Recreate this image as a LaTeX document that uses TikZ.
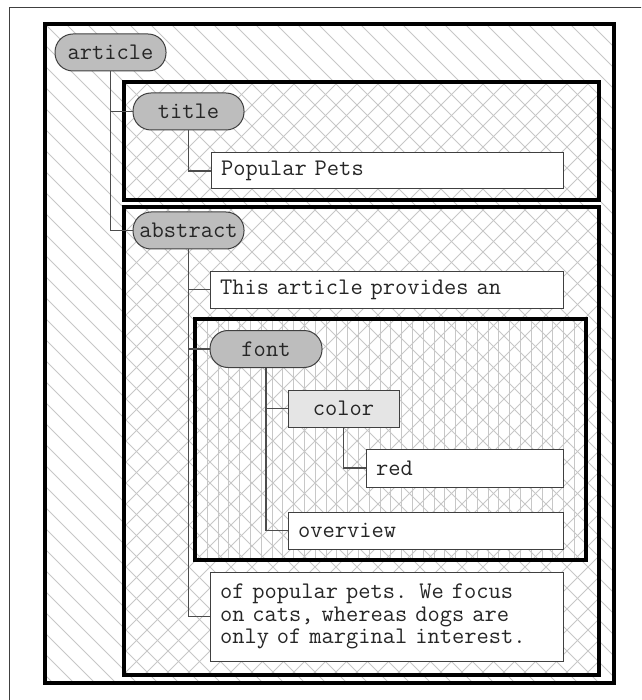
\documentclass[tikz,border=0pt]{standalone}
\usepackage{fontspec}
\begin{document}
\begin{tikzpicture}[x=1pt,y=-1pt,
  frame/.style={draw=black, line width=3.5pt},
  hatch/.style={draw=black!22, line width=0.9pt},
  conn/.style={draw=black!70, line width=1.4pt},
  txt/.style={font=\ttfamily\fontsize{23.8}{22.5}\selectfont, text=black!85},
  pill/.style={txt, draw=black!75, line width=1pt, fill=black!26,
    rounded corners=18pt, minimum height=37pt, inner sep=0pt},
  tagbox/.style={txt, draw=black!75, line width=1pt, fill=black!10,
    minimum height=37pt, inner sep=0pt},
  tbox/.style={txt, draw=black!75, line width=1pt, fill=white,
    inner xsep=10pt, inner ysep=0pt, align=left}]
\useasboundingbox (0,0) rectangle (641,700);
\clip (0,0) rectangle (641,700);

% page frame
\draw[black!75, line width=1.2pt] (9.5,7.5) rectangle (700,760);

% hatching of the nested regions
\begin{scope}
  \clip (45,24) rectangle (614,683);
  \foreach \c in {-735,-714,...,650} \draw[hatch] (\c,0) -- ++(720,720);
\end{scope}
\begin{scope}
  \clip (124,82) rectangle (599,200) (124,207) rectangle (599,675);
  \foreach \c in {0,21,...,1400} \draw[hatch] (\c,0) -- ++(-720,720);
\end{scope}
\begin{scope}
  \clip (195,319) rectangle (586,560);
  \foreach \c in {196.5,207.3,...,590} \draw[hatch] (\c,300) -- (\c,580);
\end{scope}

% region borders
\draw[frame] (45,24) rectangle (614,683);
\draw[frame] (124,82) rectangle (599,200);
\draw[frame] (124,207) rectangle (599,675);
\draw[frame] (195,319) rectangle (586,560);

% tree nodes
\node[pill, minimum width=111pt] (article) at (110.5,52.5) {article};
\node[pill, minimum width=111pt] (title) at (188.5,111.5) {title};
\node[tbox, minimum height=36pt, text width=332pt] (pets) at (387,171) {Popular Pets};
\node[pill, minimum width=111pt] (abstract) at (188.5,230.5) {abstract};
\node[tbox, minimum height=37pt, text width=333pt] (intro) at (386.5,289.5) {This article provides an};
\node[pill, minimum width=112pt] (font) at (266,349) {font};
\node[tagbox, minimum width=111pt] (color) at (343.5,408.5) {color};
\node[tbox, minimum height=38pt, text width=177pt] (red) at (464.5,468) {red};
\node[tbox, minimum height=37pt, text width=255pt] (overview) at (425.5,530.5) {overview};
\node[tbox, minimum height=89pt, text width=333pt] (rest) at (386.5,616.5)
  {of popular pets. We focus\\on cats, whereas dogs are\\only of marginal interest.};

% tree connectors
\draw[conn] (article.south) |- (title.west);
\draw[conn] (article.south) |- (abstract.west);
\draw[conn] (title.south) |- (pets.west);
\draw[conn] (abstract.south) |- (intro.west);
\draw[conn] (abstract.south) |- (font.west);
\draw[conn] (abstract.south) |- (rest.west);
\draw[conn] (font.south) |- (color.west);
\draw[conn] (font.south) |- (overview.west);
\draw[conn] (color.south) |- (red.west);
\end{tikzpicture}
\end{document}
